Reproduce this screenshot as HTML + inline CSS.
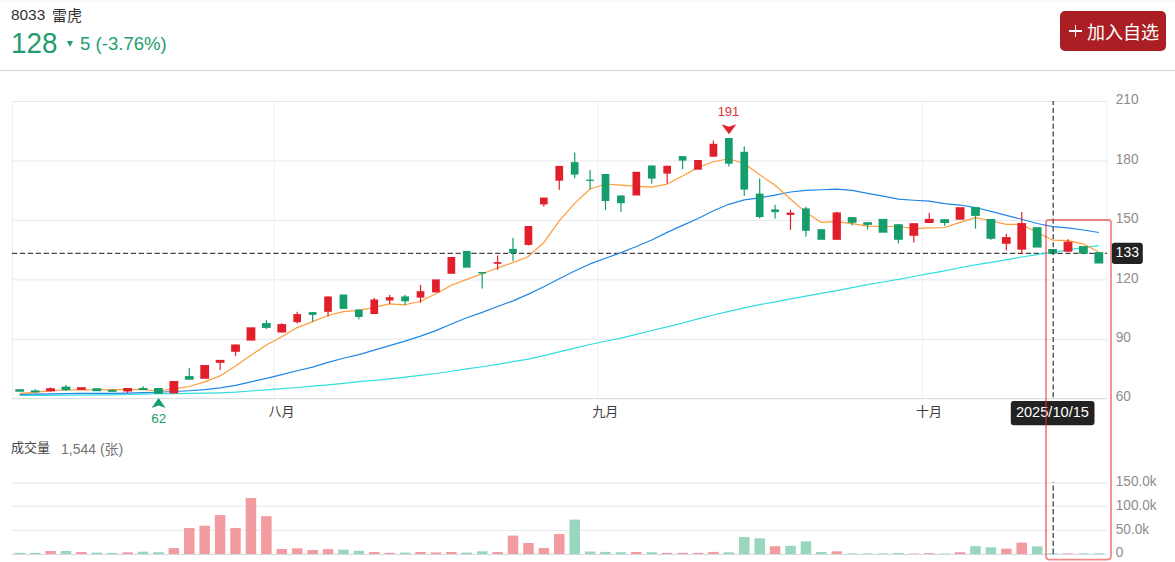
<!DOCTYPE html>
<html><head><meta charset="utf-8"><title>8033 雷虎</title>
<style>
html,body{margin:0;padding:0;background:#fff;}
body{width:1175px;height:562px;position:relative;overflow:hidden;font-family:"Liberation Sans","Noto Sans CJK SC",sans-serif;}
.topband{position:absolute;left:0;top:0;width:1175px;height:2px;background:#f9f9f9;}
.name{position:absolute;left:11px;top:6px;font-size:15.4px;color:#333;line-height:18px;white-space:nowrap;}
.price{position:absolute;left:11px;top:27px;font-size:29px;transform:scaleX(0.96);transform-origin:0 0;color:#1f9d6e;line-height:32px;white-space:nowrap;}
.chg{position:absolute;left:80px;top:33px;font-size:18.6px;color:#1f9d6e;line-height:22px;white-space:nowrap;}
.tri{position:absolute;left:67.4px;top:41px;width:0;height:0;border-left:3.8px solid transparent;border-right:3.8px solid transparent;border-top:6px solid #1f9d6e;}
.sep{position:absolute;left:0;top:70px;width:1175px;height:1px;background:#d3d3d3;}
.btn{position:absolute;left:1060px;top:11px;width:106px;height:40px;background:#ab1f24;border-radius:5px;color:#fff;font-size:18px;line-height:40px;white-space:nowrap;}
.btn .ph{position:absolute;left:9.3px;top:19.2px;width:12.5px;height:1.6px;background:#fff;}
.btn .pv{position:absolute;left:14.75px;top:13.9px;width:1.6px;height:12.3px;background:#fff;}
.btn .txt{position:absolute;left:27px;top:1.5px;}
.vol{position:absolute;left:11px;top:440px;font-size:13px;color:#444;line-height:16px;white-space:nowrap;}
.voln{position:absolute;left:61px;top:439.5px;font-size:14px;color:#747474;line-height:18px;white-space:nowrap;}
svg{position:absolute;left:0;top:0;}
</style></head>
<body>
<div class="topband"></div>
<div class="name">8033 <span style="margin-left:2.5px;font-size:15px;position:relative;top:0.8px">雷虎</span></div>
<div class="price">128</div>
<div class="tri"></div>
<div class="chg">5 (-3.76%)</div>
<div class="btn"><span class="ph"></span><span class="pv"></span><span class="txt">加入自选</span></div>
<div class="sep"></div>
<div class="vol">成交量</div><div class="voln">1,544 (张)</div>
<svg width="1175" height="562" viewBox="0 0 1175 562">
<g fill="none" stroke-width="1">
<line x1="12" y1="101.5" x2="1107" y2="101.5" stroke="#e4e8f2"/>
<line x1="12" y1="160.94" x2="1107" y2="160.94" stroke="#e4e8f2"/>
<line x1="12" y1="220.38" x2="1107" y2="220.38" stroke="#e4e8f2"/>
<line x1="12" y1="279.82" x2="1107" y2="279.82" stroke="#e4e8f2"/>
<line x1="12" y1="339.26" x2="1107" y2="339.26" stroke="#e4e8f2"/>
<line x1="274.3" y1="101" x2="274.3" y2="398" stroke="#eef0f4"/>
<line x1="597.8" y1="101" x2="597.8" y2="398" stroke="#eef0f4"/>
<line x1="922.4" y1="101" x2="922.4" y2="398" stroke="#eef0f4"/>
<line x1="12.5" y1="101" x2="12.5" y2="398" stroke="#eeeeee"/>
<line x1="1106.8" y1="101" x2="1106.8" y2="398" stroke="#eeeeee"/>
<line x1="12" y1="398.67" x2="1107" y2="398.67" stroke="#d3d8e3"/>
<line x1="12" y1="483.1" x2="1107" y2="483.1" stroke="#e4e8f2"/>
<line x1="12" y1="506.2" x2="1107" y2="506.2" stroke="#e4e8f2"/>
<line x1="12" y1="530.35" x2="1107" y2="530.35" stroke="#e4e8f2"/>
<line x1="12" y1="554.5" x2="1107" y2="554.5" stroke="#d3d8e3"/>
</g>
<line x1="12" y1="253.4" x2="1107" y2="253.4" stroke="#444" stroke-width="1.3" stroke-dasharray="5.3 2.62"/>
<g>
<rect x="14.45" y="552.8" width="10.5" height="1.2" fill="#98d6bd"/>
<rect x="29.87" y="552.9" width="10.5" height="1.1" fill="#98d6bd"/>
<rect x="45.28" y="551" width="10.5" height="3" fill="#f29ca2"/>
<rect x="60.7" y="551" width="10.5" height="3" fill="#98d6bd"/>
<rect x="76.11" y="552" width="10.5" height="2" fill="#f29ca2"/>
<rect x="91.53" y="552.6" width="10.5" height="1.4" fill="#98d6bd"/>
<rect x="106.95" y="552.9" width="10.5" height="1.1" fill="#98d6bd"/>
<rect x="122.36" y="552.3" width="10.5" height="1.7" fill="#f29ca2"/>
<rect x="137.78" y="551.7" width="10.5" height="2.3" fill="#98d6bd"/>
<rect x="153.19" y="552.2" width="10.5" height="1.8" fill="#98d6bd"/>
<rect x="168.61" y="548.1" width="10.5" height="5.9" fill="#f29ca2"/>
<rect x="184.03" y="528" width="10.5" height="26" fill="#f29ca2"/>
<rect x="199.44" y="525.7" width="10.5" height="28.3" fill="#f29ca2"/>
<rect x="214.86" y="515.1" width="10.5" height="38.9" fill="#f29ca2"/>
<rect x="230.27" y="528" width="10.5" height="26" fill="#f29ca2"/>
<rect x="245.69" y="498" width="10.5" height="56" fill="#f29ca2"/>
<rect x="261.11" y="516.2" width="10.5" height="37.8" fill="#f29ca2"/>
<rect x="276.52" y="549" width="10.5" height="5" fill="#f29ca2"/>
<rect x="291.94" y="548.3" width="10.5" height="5.7" fill="#f29ca2"/>
<rect x="307.35" y="550" width="10.5" height="4" fill="#f29ca2"/>
<rect x="322.77" y="549.1" width="10.5" height="4.9" fill="#f29ca2"/>
<rect x="338.19" y="549.7" width="10.5" height="4.3" fill="#98d6bd"/>
<rect x="353.6" y="550.8" width="10.5" height="3.2" fill="#98d6bd"/>
<rect x="369.02" y="552" width="10.5" height="2" fill="#f29ca2"/>
<rect x="384.43" y="552.8" width="10.5" height="1.2" fill="#f29ca2"/>
<rect x="399.85" y="552.6" width="10.5" height="1.4" fill="#98d6bd"/>
<rect x="415.27" y="552" width="10.5" height="2" fill="#f29ca2"/>
<rect x="430.68" y="552.4" width="10.5" height="1.6" fill="#f29ca2"/>
<rect x="446.1" y="552" width="10.5" height="2" fill="#f29ca2"/>
<rect x="461.51" y="552.6" width="10.5" height="1.4" fill="#98d6bd"/>
<rect x="476.93" y="551.3" width="10.5" height="2.7" fill="#98d6bd"/>
<rect x="492.35" y="552" width="10.5" height="2" fill="#f29ca2"/>
<rect x="507.76" y="535.6" width="10.5" height="18.4" fill="#f29ca2"/>
<rect x="523.18" y="543" width="10.5" height="11" fill="#f29ca2"/>
<rect x="538.59" y="548.1" width="10.5" height="5.9" fill="#f29ca2"/>
<rect x="554.01" y="534" width="10.5" height="20" fill="#f29ca2"/>
<rect x="569.43" y="519.6" width="10.5" height="34.4" fill="#98d6bd"/>
<rect x="584.84" y="551.5" width="10.5" height="2.5" fill="#98d6bd"/>
<rect x="600.26" y="551.9" width="10.5" height="2.1" fill="#98d6bd"/>
<rect x="615.67" y="552.2" width="10.5" height="1.8" fill="#98d6bd"/>
<rect x="631.09" y="552" width="10.5" height="2" fill="#f29ca2"/>
<rect x="646.51" y="552.3" width="10.5" height="1.7" fill="#98d6bd"/>
<rect x="661.92" y="552.9" width="10.5" height="1.1" fill="#f29ca2"/>
<rect x="677.34" y="552.8" width="10.5" height="1.2" fill="#f29ca2"/>
<rect x="692.75" y="552.9" width="10.5" height="1.1" fill="#f29ca2"/>
<rect x="708.17" y="551.9" width="10.5" height="2.1" fill="#f29ca2"/>
<rect x="723.59" y="552.3" width="10.5" height="1.7" fill="#98d6bd"/>
<rect x="739" y="537" width="10.5" height="17" fill="#98d6bd"/>
<rect x="754.42" y="538.3" width="10.5" height="15.7" fill="#98d6bd"/>
<rect x="769.83" y="546.2" width="10.5" height="7.8" fill="#f29ca2"/>
<rect x="785.25" y="545.8" width="10.5" height="8.2" fill="#98d6bd"/>
<rect x="800.67" y="541.4" width="10.5" height="12.6" fill="#98d6bd"/>
<rect x="816.08" y="552" width="10.5" height="2" fill="#98d6bd"/>
<rect x="831.5" y="551.3" width="10.5" height="2.7" fill="#f29ca2"/>
<rect x="846.91" y="553.4" width="10.5" height="0.6" fill="#98d6bd"/>
<rect x="862.33" y="553.4" width="10.5" height="0.6" fill="#98d6bd"/>
<rect x="877.75" y="553.4" width="10.5" height="0.6" fill="#98d6bd"/>
<rect x="893.16" y="552.9" width="10.5" height="1.1" fill="#98d6bd"/>
<rect x="908.58" y="553.5" width="10.5" height="0.5" fill="#f29ca2"/>
<rect x="923.99" y="553.1" width="10.5" height="0.9" fill="#f29ca2"/>
<rect x="939.41" y="553.5" width="10.5" height="0.5" fill="#98d6bd"/>
<rect x="954.83" y="552.2" width="10.5" height="1.8" fill="#f29ca2"/>
<rect x="970.24" y="546.2" width="10.5" height="7.8" fill="#98d6bd"/>
<rect x="985.66" y="547.4" width="10.5" height="6.6" fill="#98d6bd"/>
<rect x="1001.07" y="548.7" width="10.5" height="5.3" fill="#f29ca2"/>
<rect x="1016.49" y="542.6" width="10.5" height="11.4" fill="#f29ca2"/>
<rect x="1031.91" y="546.4" width="10.5" height="7.6" fill="#98d6bd"/>
<rect x="1047.32" y="553.3" width="10.5" height="0.7" fill="#98d6bd"/>
<rect x="1062.74" y="553.4" width="10.5" height="0.6" fill="#f29ca2"/>
<rect x="1078.15" y="553.4" width="10.5" height="0.6" fill="#98d6bd"/>
<rect x="1093.57" y="553.3" width="10.5" height="0.7" fill="#98d6bd"/>
</g>
<path d="M19.7,395.4 L35.12,395.4 L50.53,395.4 L65.95,395.25 L81.36,395.09 L96.78,394.93 L112.2,394.78 L127.61,394.51 L143.03,394.12 L158.44,393.74 L173.86,393.53 L189.28,393.33 L204.69,393.11 L220.11,392.8 L235.52,392.18 L250.94,390.99 L266.36,389.82 L281.77,388.67 L297.19,387.51 L312.6,386.21 L328.02,384.87 L343.44,383.31 L358.85,381.72 L374.27,380.39 L389.68,378.83 L405.1,377.14 L420.52,375.34 L435.93,373.49 L451.35,371.24 L466.76,368.93 L482.18,366.72 L497.6,364.31 L513.01,361.69 L528.43,359.15 L543.84,355.58 L559.26,351.88 L574.68,348.18 L590.09,344.48 L605.51,341.28 L620.92,338.08 L636.34,334.3 L651.76,330.5 L667.17,326.95 L682.59,322.99 L698,318.93 L713.42,315.04 L728.84,311.37 L744.25,307.82 L759.67,304.7 L775.08,301.82 L790.5,298.96 L805.92,296.15 L821.33,293.43 L836.75,290.57 L852.16,287.54 L867.58,284.64 L883,281.99 L898.41,279.37 L913.83,276.5 L929.24,273.62 L944.66,270.81 L960.08,267.73 L975.49,264.85 L990.91,262.33 L1006.32,259.83 L1021.74,257.03 L1037.16,254.62 L1052.57,252.38 L1067.99,249.91 L1083.4,247.57 L1098.82,245.61" fill="none" stroke="#33dede" stroke-width="1.2" stroke-linejoin="round"/>
<path d="M19.7,394.3 L35.12,394.06 L50.53,393.82 L65.95,393.6 L81.36,393.4 L96.78,393.36 L112.2,393.32 L127.61,393.09 L143.03,392.67 L158.44,392.24 L173.86,391.51 L189.28,390.74 L204.69,389.65 L220.11,387.85 L235.52,385.43 L250.94,381.88 L266.36,378.34 L281.77,374.64 L297.19,370.77 L312.6,367.14 L328.02,362.38 L343.44,358.22 L358.85,354.66 L374.27,350.12 L389.68,345.62 L405.1,341.12 L420.52,336.09 L435.93,330.67 L451.35,324.01 L466.76,317.71 L482.18,312.33 L497.6,306.45 L513.01,300.85 L528.43,294.16 L543.84,286.81 L559.26,278.74 L574.68,271.07 L590.09,263.92 L605.51,258.26 L620.92,252.68 L636.34,246.44 L651.76,239.93 L667.17,232.37 L682.59,225.42 L698,218.56 L713.42,210.69 L728.84,204.31 L744.25,199.82 L759.67,197.82 L775.08,195.04 L790.5,192 L805.92,190.43 L821.33,189.77 L836.75,189.09 L852.16,190.35 L867.58,193.3 L883,196.2 L898.41,199.15 L913.83,200.26 L929.24,201.05 L944.66,203.6 L960.08,205.03 L975.49,207.54 L990.91,211.45 L1006.32,215.31 L1021.74,219.27 L1037.16,223.47 L1052.57,226.67 L1067.99,227.9 L1083.4,229.97 L1098.82,232.52" fill="none" stroke="#1f87e5" stroke-width="1.2" stroke-linejoin="round"/>
<path d="M19.7,393.4 L35.12,392.3 L50.53,390.7 L65.95,390 L81.36,389.92 L96.78,389.82 L112.2,389.72 L127.61,389.68 L143.03,389.64 L158.44,390.98 L173.86,388.94 L189.28,386.52 L204.69,381.92 L220.11,375.9 L235.52,366.02 L250.94,355.28 L266.36,344.92 L281.77,336.74 L297.19,327.58 L312.6,321.66 L328.02,315.5 L343.44,311.7 L358.85,310.28 L374.27,307.36 L389.68,303.82 L405.1,304.78 L420.52,301.24 L435.93,293.72 L451.35,285.22 L466.76,279.32 L482.18,273.76 L497.6,267.94 L513.01,262.66 L528.43,256.46 L543.84,242.44 L559.26,220.92 L574.68,203.42 L590.09,189 L605.51,184 L620.92,185.12 L636.34,186.3 L651.76,187.1 L667.17,184.08 L682.59,176 L698,167.36 L713.42,161.76 L728.84,158.78 L744.25,163.54 L759.67,174.82 L775.08,185.24 L790.5,199 L805.92,212.42 L821.33,222.46 L836.75,221.54 L852.16,223.68 L867.58,226.14 L883,226.52 L898.41,226.52 L913.83,228.68 L929.24,227.9 L944.66,227.52 L960.08,222.42 L975.49,217.64 L990.91,220.76 L1006.32,224.4 L1021.74,224.42 L1037.16,232.5 L1052.57,240.04 L1067.99,240.62 L1083.4,243.92 L1098.82,252" fill="none" stroke="#ff9c3a" stroke-width="1.2" stroke-linejoin="round"/>
<g>
<rect x="15.3" y="389.2" width="8.8" height="2.5" fill="#159e6b"/>
<rect x="34.52" y="389.3" width="1.2" height="3.2" fill="#159e6b"/>
<rect x="30.72" y="390.4" width="8.8" height="1.9" fill="#159e6b"/>
<rect x="49.93" y="387.4" width="1.2" height="4" fill="#e01f2b"/>
<rect x="46.13" y="388.2" width="8.8" height="3.2" fill="#e01f2b"/>
<rect x="65.35" y="384.9" width="1.2" height="6" fill="#159e6b"/>
<rect x="61.55" y="386.6" width="8.8" height="3.6" fill="#159e6b"/>
<rect x="76.96" y="387.2" width="8.8" height="2.7" fill="#e01f2b"/>
<rect x="92.38" y="388.2" width="8.8" height="3" fill="#159e6b"/>
<rect x="111.6" y="389.4" width="1.2" height="2.4" fill="#159e6b"/>
<rect x="107.8" y="390" width="8.8" height="1.8" fill="#159e6b"/>
<rect x="127.01" y="388" width="1.2" height="5" fill="#e01f2b"/>
<rect x="123.21" y="388" width="8.8" height="3.5" fill="#e01f2b"/>
<rect x="142.43" y="386.1" width="1.2" height="3.9" fill="#159e6b"/>
<rect x="138.63" y="388" width="8.8" height="2" fill="#159e6b"/>
<rect x="154.04" y="388" width="8.8" height="5.9" fill="#159e6b"/>
<rect x="169.46" y="381" width="8.8" height="12.4" fill="#e01f2b"/>
<rect x="188.68" y="368" width="1.2" height="11.7" fill="#159e6b"/>
<rect x="184.88" y="376.1" width="8.8" height="3.6" fill="#159e6b"/>
<rect x="200.29" y="365" width="8.8" height="13.8" fill="#e01f2b"/>
<rect x="219.51" y="359.9" width="1.2" height="10.2" fill="#e01f2b"/>
<rect x="215.71" y="359.9" width="8.8" height="2.9" fill="#e01f2b"/>
<rect x="234.92" y="344.5" width="1.2" height="11.7" fill="#e01f2b"/>
<rect x="231.12" y="344.5" width="8.8" height="7.3" fill="#e01f2b"/>
<rect x="246.54" y="327.3" width="8.8" height="13.3" fill="#e01f2b"/>
<rect x="265.76" y="320.2" width="1.2" height="8.9" fill="#159e6b"/>
<rect x="261.96" y="323.1" width="8.8" height="4.8" fill="#159e6b"/>
<rect x="281.17" y="323.3" width="1.2" height="9.2" fill="#e01f2b"/>
<rect x="277.37" y="324.1" width="8.8" height="8.4" fill="#e01f2b"/>
<rect x="296.59" y="311.8" width="1.2" height="11.6" fill="#e01f2b"/>
<rect x="293.34" y="314.1" width="7.7" height="8.1" fill="#e01f2b"/>
<rect x="312" y="312.1" width="1.2" height="9.5" fill="#159e6b"/>
<rect x="308.75" y="312.1" width="7.7" height="2.8" fill="#159e6b"/>
<rect x="327.42" y="296.2" width="1.2" height="20.2" fill="#e01f2b"/>
<rect x="324.17" y="296.5" width="7.7" height="15.3" fill="#e01f2b"/>
<rect x="339.59" y="294.5" width="7.7" height="14.4" fill="#159e6b"/>
<rect x="358.25" y="309.5" width="1.2" height="9.8" fill="#159e6b"/>
<rect x="355" y="309.5" width="7.7" height="7.5" fill="#159e6b"/>
<rect x="373.67" y="297.9" width="1.2" height="16.1" fill="#e01f2b"/>
<rect x="370.42" y="299.5" width="7.7" height="14.5" fill="#e01f2b"/>
<rect x="389.08" y="294.9" width="1.2" height="9" fill="#e01f2b"/>
<rect x="385.83" y="297.2" width="7.7" height="3.3" fill="#e01f2b"/>
<rect x="404.5" y="294.9" width="1.2" height="10" fill="#159e6b"/>
<rect x="401.25" y="296.4" width="7.7" height="4.9" fill="#159e6b"/>
<rect x="419.92" y="284.9" width="1.2" height="17.9" fill="#e01f2b"/>
<rect x="416.67" y="291.2" width="7.7" height="6.4" fill="#e01f2b"/>
<rect x="432.08" y="279.4" width="7.7" height="13" fill="#e01f2b"/>
<rect x="447.5" y="257" width="7.7" height="16.8" fill="#e01f2b"/>
<rect x="462.91" y="250.9" width="7.7" height="16.8" fill="#159e6b"/>
<rect x="481.58" y="272" width="1.2" height="16.5" fill="#159e6b"/>
<rect x="478.33" y="272" width="7.7" height="1.5" fill="#159e6b"/>
<rect x="497" y="255.5" width="1.2" height="14.3" fill="#e01f2b"/>
<rect x="493.75" y="262.1" width="7.7" height="1.7" fill="#e01f2b"/>
<rect x="512.41" y="237.8" width="1.2" height="23.3" fill="#159e6b"/>
<rect x="509.16" y="248.9" width="7.7" height="4.1" fill="#159e6b"/>
<rect x="527.83" y="226" width="1.2" height="19.5" fill="#e01f2b"/>
<rect x="524.58" y="226" width="7.7" height="18.9" fill="#e01f2b"/>
<rect x="543.24" y="197.6" width="1.2" height="9" fill="#e01f2b"/>
<rect x="539.99" y="197.6" width="7.7" height="6.8" fill="#e01f2b"/>
<rect x="558.66" y="165.9" width="1.2" height="23.9" fill="#e01f2b"/>
<rect x="555.41" y="165.9" width="7.7" height="14.8" fill="#e01f2b"/>
<rect x="574.08" y="152.5" width="1.2" height="25.9" fill="#159e6b"/>
<rect x="570.83" y="162.1" width="7.7" height="12.5" fill="#159e6b"/>
<rect x="589.49" y="169.9" width="1.2" height="19.3" fill="#159e6b"/>
<rect x="586.24" y="179.6" width="7.7" height="1.3" fill="#159e6b"/>
<rect x="604.91" y="174" width="1.2" height="35.9" fill="#159e6b"/>
<rect x="601.66" y="174" width="7.7" height="27" fill="#159e6b"/>
<rect x="620.32" y="195.5" width="1.2" height="16.4" fill="#159e6b"/>
<rect x="617.07" y="195.5" width="7.7" height="7.7" fill="#159e6b"/>
<rect x="632.49" y="171.8" width="7.7" height="23.7" fill="#e01f2b"/>
<rect x="651.16" y="165.5" width="1.2" height="18.1" fill="#159e6b"/>
<rect x="647.91" y="165.5" width="7.7" height="13.1" fill="#159e6b"/>
<rect x="666.57" y="165.8" width="1.2" height="17.8" fill="#e01f2b"/>
<rect x="663.32" y="165.8" width="7.7" height="7.8" fill="#e01f2b"/>
<rect x="681.99" y="156.1" width="1.2" height="13.2" fill="#159e6b"/>
<rect x="678.74" y="156.1" width="7.7" height="4.5" fill="#159e6b"/>
<rect x="694.15" y="160" width="7.7" height="9.7" fill="#e01f2b"/>
<rect x="712.82" y="140.5" width="1.2" height="16.2" fill="#e01f2b"/>
<rect x="709.57" y="143.8" width="7.7" height="12.9" fill="#e01f2b"/>
<rect x="728.24" y="138" width="1.2" height="28.4" fill="#159e6b"/>
<rect x="724.99" y="138" width="7.7" height="25.7" fill="#159e6b"/>
<rect x="743.65" y="146.3" width="1.2" height="49.5" fill="#159e6b"/>
<rect x="740.4" y="151.8" width="7.7" height="37.8" fill="#159e6b"/>
<rect x="759.07" y="178.4" width="1.2" height="40.1" fill="#159e6b"/>
<rect x="755.82" y="193.6" width="7.7" height="23.4" fill="#159e6b"/>
<rect x="774.48" y="204.8" width="1.2" height="13.7" fill="#159e6b"/>
<rect x="771.23" y="209.4" width="7.7" height="2.7" fill="#159e6b"/>
<rect x="789.9" y="209.9" width="1.2" height="19.9" fill="#e01f2b"/>
<rect x="786.65" y="212.6" width="7.7" height="2.3" fill="#e01f2b"/>
<rect x="805.32" y="206.8" width="1.2" height="29.9" fill="#159e6b"/>
<rect x="802.07" y="208.4" width="7.7" height="22.4" fill="#159e6b"/>
<rect x="817.48" y="229.2" width="7.7" height="10.6" fill="#159e6b"/>
<rect x="836.15" y="211.8" width="1.2" height="28" fill="#e01f2b"/>
<rect x="832.6" y="212.4" width="8.3" height="27.4" fill="#e01f2b"/>
<rect x="851.56" y="217.1" width="1.2" height="8.4" fill="#159e6b"/>
<rect x="847.76" y="217.1" width="8.8" height="5.7" fill="#159e6b"/>
<rect x="866.98" y="222.2" width="1.2" height="7.4" fill="#159e6b"/>
<rect x="863.18" y="222.2" width="8.8" height="2.7" fill="#159e6b"/>
<rect x="878.6" y="218.9" width="8.8" height="13.8" fill="#159e6b"/>
<rect x="897.81" y="224.2" width="1.2" height="19.3" fill="#159e6b"/>
<rect x="894.01" y="224.2" width="8.8" height="15.6" fill="#159e6b"/>
<rect x="913.23" y="223.2" width="1.2" height="19.3" fill="#e01f2b"/>
<rect x="909.43" y="223.2" width="8.8" height="12.6" fill="#e01f2b"/>
<rect x="928.64" y="213" width="1.2" height="10" fill="#e01f2b"/>
<rect x="924.84" y="218.9" width="8.8" height="4.1" fill="#e01f2b"/>
<rect x="944.06" y="219.2" width="1.2" height="6.5" fill="#159e6b"/>
<rect x="940.26" y="219.2" width="8.8" height="3.8" fill="#159e6b"/>
<rect x="955.68" y="207.2" width="8.8" height="12.5" fill="#e01f2b"/>
<rect x="974.89" y="207.2" width="1.2" height="21.4" fill="#159e6b"/>
<rect x="971.09" y="207.2" width="8.8" height="8.7" fill="#159e6b"/>
<rect x="990.31" y="219" width="1.2" height="20.8" fill="#159e6b"/>
<rect x="986.51" y="219" width="8.8" height="19.8" fill="#159e6b"/>
<rect x="1005.72" y="233.9" width="1.2" height="16.5" fill="#e01f2b"/>
<rect x="1001.92" y="237.1" width="8.8" height="6.7" fill="#e01f2b"/>
<rect x="1021.14" y="212" width="1.2" height="42.2" fill="#e01f2b"/>
<rect x="1017.34" y="223.1" width="8.8" height="26.6" fill="#e01f2b"/>
<rect x="1032.76" y="227.2" width="8.8" height="20.4" fill="#159e6b"/>
<rect x="1048.17" y="249" width="8.8" height="4.6" fill="#159e6b"/>
<rect x="1067.39" y="239.2" width="1.2" height="12.5" fill="#e01f2b"/>
<rect x="1063.59" y="241.7" width="8.8" height="10" fill="#e01f2b"/>
<rect x="1079" y="246.1" width="8.8" height="7.5" fill="#159e6b"/>
<rect x="1094.42" y="252.1" width="8.8" height="11.4" fill="#159e6b"/>
</g>
<line x1="1053.2" y1="101" x2="1053.2" y2="398" stroke="#444" stroke-width="1.3" stroke-dasharray="5 2.9" stroke-dashoffset="1"/>
<line x1="1053.2" y1="482" x2="1053.2" y2="554" stroke="#444" stroke-width="1.3" stroke-dasharray="5.3 2.6" stroke-dashoffset="4.5"/>
<path d="M721.5,124.3 L729,126.8 L736.3,124.3 L729,134.3 Z" fill="#e01f2b"/>
<path d="M158.6,397.9 L165.7,408 L158.6,405.5 L151.6,408 Z" fill="#159e6b"/>
<text x="728.5" y="116" font-family="Liberation Sans, Noto Sans CJK SC, sans-serif" font-size="13" fill="#e0323c" text-anchor="middle">191</text>
<text x="158.7" y="423.4" font-family="Liberation Sans, Noto Sans CJK SC, sans-serif" font-size="13.5" fill="#159e6b" text-anchor="middle">62</text>
<text transform="translate(1115.8,104) scale(0.92,1)" font-family="Liberation Sans, Noto Sans CJK SC, sans-serif" font-size="14.8" fill="#8c8c8c">210</text>
<text transform="translate(1115.8,163.6) scale(0.92,1)" font-family="Liberation Sans, Noto Sans CJK SC, sans-serif" font-size="14.8" fill="#8c8c8c">180</text>
<text transform="translate(1115.8,223) scale(0.92,1)" font-family="Liberation Sans, Noto Sans CJK SC, sans-serif" font-size="14.8" fill="#8c8c8c">150</text>
<text transform="translate(1115.8,282.8) scale(0.92,1)" font-family="Liberation Sans, Noto Sans CJK SC, sans-serif" font-size="14.8" fill="#8c8c8c">120</text>
<text transform="translate(1115.8,342) scale(0.92,1)" font-family="Liberation Sans, Noto Sans CJK SC, sans-serif" font-size="14.8" fill="#8c8c8c">90</text>
<text transform="translate(1115.8,401.3) scale(0.92,1)" font-family="Liberation Sans, Noto Sans CJK SC, sans-serif" font-size="14.8" fill="#8c8c8c">60</text>
<text transform="translate(1115.8,486.4) scale(0.92,1)" font-family="Liberation Sans, Noto Sans CJK SC, sans-serif" font-size="14.8" fill="#8c8c8c">150.0k</text>
<text transform="translate(1115.8,510.1) scale(0.92,1)" font-family="Liberation Sans, Noto Sans CJK SC, sans-serif" font-size="14.8" fill="#8c8c8c">100.0k</text>
<text transform="translate(1115.8,534.3) scale(0.92,1)" font-family="Liberation Sans, Noto Sans CJK SC, sans-serif" font-size="14.8" fill="#8c8c8c">50.0k</text>
<text transform="translate(1115.8,556.7) scale(0.92,1)" font-family="Liberation Sans, Noto Sans CJK SC, sans-serif" font-size="14.8" fill="#8c8c8c">0</text>
<text x="281.6" y="416.3" font-family="Liberation Sans, Noto Sans CJK SC, sans-serif" font-size="13" fill="#3c3c3c" text-anchor="middle">八月</text>
<text x="605.3" y="416.3" font-family="Liberation Sans, Noto Sans CJK SC, sans-serif" font-size="13" fill="#3c3c3c" text-anchor="middle">九月</text>
<text x="929.1" y="416.3" font-family="Liberation Sans, Noto Sans CJK SC, sans-serif" font-size="13" fill="#3c3c3c" text-anchor="middle">十月</text>
<rect x="1111.8" y="242.8" width="31" height="21.2" rx="3" fill="#222"/>
<text x="1127.3" y="257.2" font-family="Liberation Sans, Noto Sans CJK SC, sans-serif" font-size="14" fill="#fff" text-anchor="middle">133</text>
<rect x="1010.8" y="401" width="83.7" height="24.2" rx="3" fill="#222"/>
<text x="1052.4" y="417.0" font-family="Liberation Sans, Noto Sans CJK SC, sans-serif" font-size="14.6" fill="#fff" text-anchor="middle">2025/10/15</text>
<path d="M1046,222.5 Q1046,220 1048.5,220 L1108.5,220 Q1111,220 1111,222.5 L1111,555.7 Q1111,559.7 1107,559.7 L1050,559.7 Q1046,559.7 1046,555.7 Z" fill="none" stroke="rgb(232,40,40)" stroke-opacity="0.55" stroke-width="1.8"/>
</svg>
</body></html>
